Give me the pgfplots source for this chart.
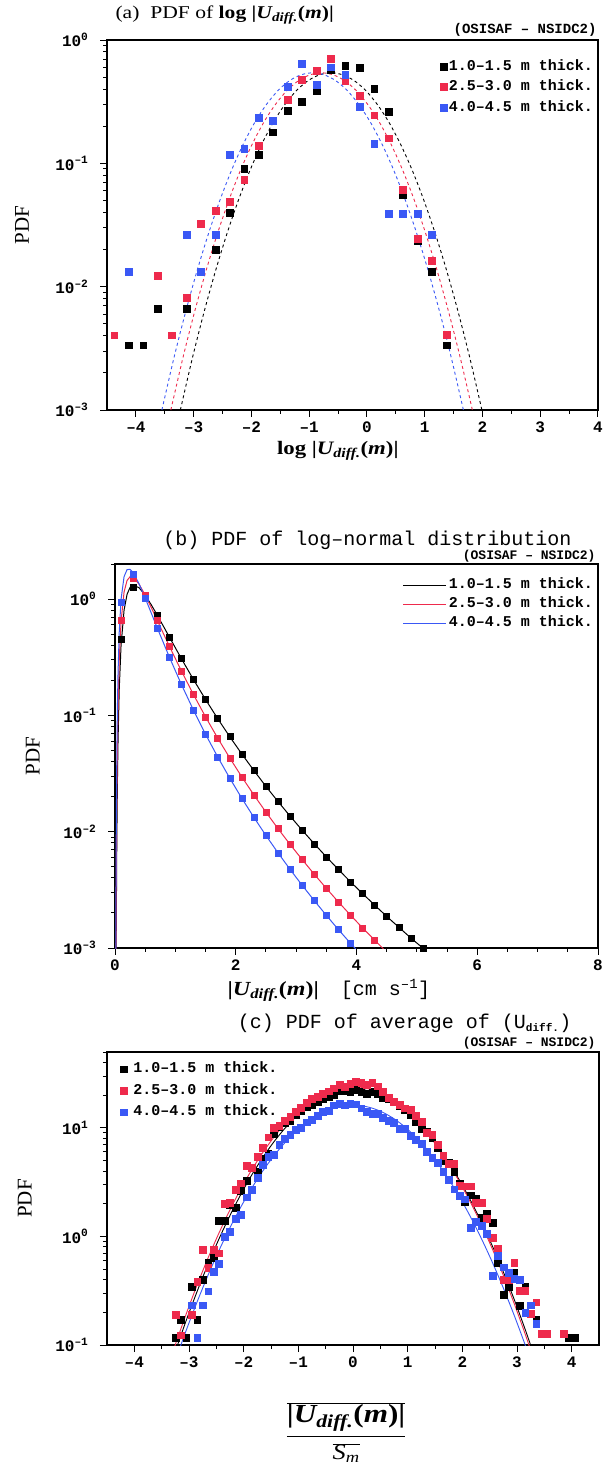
\documentclass[border=0pt]{standalone}
\usepackage{fontspec}
\setmainfont{Liberation Serif}
\setmonofont{Liberation Mono}
\newfontfamily\wserif[FakeStretch=1.2]{Liberation Serif}
\usepackage{pgfplots}
\pgfplotsset{compat=1.18}
\definecolor{cred}{RGB}{238,42,76}
\definecolor{cblue}{RGB}{58,88,245}
\newcommand{\fs}[1]{\fontsize{#1}{#1}\selectfont}
\pgfplotsset{
  base/.style={
    scale only axis, anchor=north west,
    axis line style={line width=1.1pt},
    tick align=outside, tick pos=left,
    major tick length=7pt, minor tick length=4pt,
    tick style={line width=1pt, black},
    tick label style={font=\fs{16}\ttfamily\bfseries},
    xticklabel style={yshift=-1pt},
    yticklabel style={xshift=-8pt},
    legend cell align=left,
  },
  sq/.style={only marks, mark=square*, mark size=3.4pt, mark options={draw=none, fill=#1}, color=#1},
  sqb/.style={only marks, mark=square*, mark size=3pt, mark options={draw=none, fill=#1}, color=#1},
}
\begin{document}
\begin{tikzpicture}
\useasboundingbox (0,0) rectangle (605pt,-1474pt);

% ---------------- panel (a)
\begin{axis}[ymode=log, base, at={(107pt,-40pt)}, width=491pt, height=370pt,
  xmin=-4.5, xmax=4, ymin=1e-3, ymax=1,
  xtick={-4,-3,-2,-1,0,1,2,3,4}, xticklabels={–4,–3,–2,–1,0,1,2,3,4},
  minor x tick num=1,
  ytick={1e-3,1e-2,1e-1,1},
  yticklabels={10\textsuperscript{–3},10\textsuperscript{–2},10\textsuperscript{–1},10\textsuperscript{0}},
  minor ytick={2e-3,3e-3,4e-3,5e-3,6e-3,7e-3,8e-3,9e-3,2e-2,3e-2,4e-2,5e-2,6e-2,7e-2,8e-2,9e-2,0.2,0.3,0.4,0.5,0.6,0.7,0.8,0.9},
  ylabel={PDF}, ylabel style={font=\fs{21}\rmfamily, at={(axis description cs:-0.173,0.5)}, anchor=center},
  xlabel={\wserif\bfseries log |\itshape U\textsubscript{diff.}\upshape(\itshape m\upshape)|},
  xlabel style={font=\fs{19}, at={(axis description cs:0.47,-0.11)}, anchor=center},
  legend style={draw=none, fill=none, at={(0.994,0.957)}, anchor=north east, inner sep=0pt,
    font=\fs{15}\ttfamily\bfseries, nodes={text height=11pt, text depth=3.5pt, inner ysep=3pt, inner xsep=2pt}},
  legend image code/.code={\draw[#1] plot coordinates {(0pt,0pt)};},
]
\addplot[sq=black] coordinates {(-4.125,0.00335) (-3.875,0.00335) (-3.625,0.00667) (-3.125,0.00667) (-2.625,0.02) (-2.375,0.0398) (-2.125,0.09) (-1.875,0.117) (-1.625,0.179) (-1.375,0.267) (-1.125,0.317) (-0.875,0.387) (-0.625,0.569) (-0.375,0.618) (-0.125,0.597) (0.125,0.404) (0.375,0.264) (0.625,0.056) (0.875,0.0234) (1.125,0.0133) (1.375,0.00335)};
\addlegendentry{1.0–1.5 m thick.}
\addplot[sq=cred] coordinates {(-4.375,0.00404) (-3.625,0.0123) (-3.375,0.00404) (-3.125,0.0081) (-2.875,0.0326) (-2.625,0.041) (-2.375,0.049) (-2.125,0.0734) (-1.875,0.139) (-1.375,0.328) (-1.125,0.48) (-0.875,0.561) (-0.625,0.709) (-0.375,0.47) (-0.125,0.352) (0.125,0.246) (0.375,0.16) (0.625,0.061) (0.875,0.0244) (1.125,0.0162) (1.375,0.00409)};
\addlegendentry{2.5–3.0 m thick.}
\addplot[sq=cblue] coordinates {(-4.125,0.0132) (-3.125,0.0262) (-2.875,0.0132) (-2.625,0.0262) (-2.375,0.117) (-2.125,0.1316) (-1.875,0.236) (-1.625,0.222) (-1.375,0.418) (-1.125,0.644) (-0.875,0.432) (-0.625,0.601) (-0.375,0.524) (-0.125,0.29) (0.125,0.144) (0.375,0.039) (0.625,0.039) (0.875,0.039) (1.125,0.0264)};
\addlegendentry{4.0–4.5 m thick.}
\addplot[black, dashed, line width=0.9pt, smooth, forget plot] coordinates {(-3.23,0.001) (-3.02,0.00266) (-2.82,0.00622) (-2.62,0.0135) (-2.42,0.0272) (-2.22,0.0510) (-2.02,0.0888) (-1.82,0.1435) (-1.62,0.2155) (-1.42,0.300) (-1.22,0.389) (-1.02,0.468) (-0.82,0.522) (-0.62,0.542) (-0.42,0.522) (-0.22,0.468) (-0.02,0.389) (0.18,0.300) (0.38,0.2155) (0.58,0.1435) (0.78,0.0888) (0.98,0.0510) (1.18,0.0272) (1.38,0.0135) (1.58,0.00622) (1.78,0.00266) (1.99,0.001)};
\addplot[cred, dashed, line width=0.9pt, smooth, forget plot] coordinates {(-3.395,0.001) (-3.185,0.00266) (-2.985,0.00622) (-2.785,0.0135) (-2.585,0.0272) (-2.385,0.0510) (-2.185,0.0888) (-1.985,0.1435) (-1.785,0.2155) (-1.585,0.300) (-1.385,0.389) (-1.185,0.468) (-0.985,0.522) (-0.785,0.542) (-0.585,0.522) (-0.385,0.468) (-0.185,0.389) (0.015,0.300) (0.215,0.2155) (0.415,0.1435) (0.615,0.0888) (0.815,0.0510) (1.015,0.0272) (1.215,0.0135) (1.415,0.00622) (1.615,0.00266) (1.825,0.001)};
\addplot[cblue, dashed, line width=0.9pt, smooth, forget plot] coordinates {(-3.55,0.001) (-3.34,0.00266) (-3.14,0.00622) (-2.94,0.0135) (-2.74,0.0272) (-2.54,0.0510) (-2.34,0.0888) (-2.14,0.1435) (-1.94,0.2155) (-1.74,0.300) (-1.54,0.389) (-1.34,0.468) (-1.14,0.522) (-0.94,0.542) (-0.74,0.522) (-0.54,0.468) (-0.34,0.389) (-0.14,0.300) (0.06,0.2155) (0.26,0.1435) (0.46,0.0888) (0.66,0.0510) (0.86,0.0272) (1.06,0.0135) (1.26,0.00622) (1.46,0.00266) (1.67,0.001)};
\end{axis}
\node[anchor=west, font=\fs{18}\wserif] at (112pt,-15pt) {(a)\ \ PDF of {\bfseries log |\itshape U\textsubscript{diff.}\upshape(\itshape m\upshape)|}};
\node[anchor=east, font=\fs{14}\ttfamily\bfseries] at (600pt,-30pt) {(OSISAF – NSIDC2)};

% ---------------- panel (b)
\begin{axis}[ymode=log, base, at={(115pt,-564pt)}, width=483pt, height=384pt,
  xmin=0, xmax=8, ymin=1e-3, ymax=2,
  xtick={0,2,4,6,8}, xticklabels={0,2,4,6,8}, minor x tick num=3,
  ytick={1e-3,1e-2,1e-1,1},
  yticklabels={10\textsuperscript{–3},10\textsuperscript{–2},10\textsuperscript{–1},10\textsuperscript{0}},
  minor ytick={2e-3,3e-3,4e-3,5e-3,6e-3,7e-3,8e-3,9e-3,2e-2,3e-2,4e-2,5e-2,6e-2,7e-2,8e-2,9e-2,0.2,0.3,0.4,0.5,0.6,0.7,0.8,0.9,2},
  ylabel={PDF}, ylabel style={font=\fs{21}\rmfamily, at={(axis description cs:-0.17,0.5)}, anchor=center},
  xlabel={{\wserif\bfseries |\itshape U\textsubscript{diff.}\upshape(\itshape m\upshape)|}\hspace{1.1em}{\ttfamily [cm s\textsuperscript{–1}]}},
  xlabel style={font=\fs{20}, at={(axis description cs:0.443,-0.11)}, anchor=center},
  legend style={draw=none, fill=none, at={(0.994,0.970)}, anchor=north east, inner sep=0pt,
    font=\fs{15}\ttfamily\bfseries, nodes={text height=10.5pt, text depth=3pt, inner ysep=2.75pt, inner xsep=2pt}},
  legend image code/.code={\draw[#1] (0pt,0pt) -- (43pt,0pt);},
]
\addplot[black, line width=1pt] coordinates {(0.018,0.0007) (0.02,0.00123) (0.03,0.00825) (0.04,0.02656) (0.05,0.0592) (0.07,0.1666) (0.1,0.397) (0.15,0.802) (0.2,1.098) (0.25,1.261) (0.3,1.319) (0.4,1.249) (0.5,1.079) (0.6,0.893) (0.7,0.727) (0.9,0.472) (1.1,0.307) (1.3,0.203) (1.5,0.1369) (1.7,0.0939) (1.9,0.0656) (2.1,0.0466) (2.3,0.0336) (2.5,0.0245) (2.7,0.01817) (2.9,0.01361) (3.1,0.0103) (3.3,0.00788) (3.5,0.00608) (3.7,0.00473) (3.9,0.00371) (4.1,0.00294) (4.3,0.00234) (4.5,0.00187) (4.7,0.00151) (4.9,0.00122) (5.1,0.000997)};
\addlegendentry{1.0–1.5 m thick.}
\addplot[cred, line width=1pt] coordinates {(0.015,0.0007) (0.02,0.00304) (0.03,0.0184) (0.04,0.0549) (0.05,0.1152) (0.07,0.2957) (0.1,0.638) (0.15,1.148) (0.2,1.446) (0.25,1.555) (0.3,1.541) (0.4,1.339) (0.5,1.080) (0.6,0.846) (0.7,0.655) (0.9,0.3935) (1.1,0.2405) (1.3,0.1509) (1.5,0.0970) (1.7,0.0639) (1.9,0.0431) (2.1,0.0296) (2.3,0.0207) (2.5,0.01473) (2.7,0.01062) (2.9,0.00777) (3.1,0.00576) (3.3,0.00431) (3.5,0.00326) (3.7,0.00249) (3.9,0.00192) (4.1,0.00149) (4.3,0.00117) (4.5,0.00092)};
\addlegendentry{2.5–3.0 m thick.}
\addplot[cblue, line width=1pt] coordinates {(0.012,0.0007) (0.015,0.0022) (0.02,0.00848) (0.03,0.0439) (0.04,0.1175) (0.05,0.2275) (0.07,0.518) (0.1,0.989) (0.15,1.557) (0.2,1.791) (0.25,1.798) (0.3,1.687) (0.4,1.347) (0.5,1.020) (0.6,0.759) (0.7,0.5646) (0.9,0.3172) (1.1,0.1842) (1.3,0.1108) (1.5,0.0688) (1.7,0.0440) (1.9,0.0289) (2.1,0.0194) (2.3,0.01329) (2.5,0.00928) (2.7,0.00658) (2.9,0.00474) (3.1,0.00346) (3.3,0.00256) (3.5,0.00191) (3.7,0.00144) (3.9,0.0011) (4.1,0.000846)};
\addlegendentry{4.0–4.5 m thick.}
\addplot[sqb=black, forget plot] coordinates {(0.1,0.45) (0.3,1.27) (0.5,1.079) (0.7,0.727) (0.9,0.472) (1.1,0.307) (1.3,0.203) (1.5,0.1369) (1.7,0.0939) (1.9,0.0656) (2.1,0.0466) (2.3,0.0336) (2.5,0.0245) (2.7,0.0182) (2.9,0.0136) (3.1,0.0103) (3.3,0.00788) (3.5,0.00608) (3.7,0.00473) (3.9,0.00371) (4.1,0.00294) (4.3,0.00234) (4.5,0.00187) (4.7,0.00151) (4.9,0.00122) (5.1,0.001)};
\addplot[sqb=cred, forget plot] coordinates {(0.1,0.656) (0.3,1.5) (0.5,1.08) (0.7,0.655) (0.9,0.3935) (1.1,0.2405) (1.3,0.1509) (1.5,0.097) (1.7,0.0639) (1.9,0.0431) (2.1,0.0296) (2.3,0.0207) (2.5,0.01473) (2.7,0.01062) (2.9,0.00777) (3.1,0.00576) (3.3,0.00431) (3.5,0.00326) (3.7,0.00249) (3.9,0.00192) (4.1,0.00149) (4.3,0.00117)};
\addplot[sqb=cblue, forget plot] coordinates {(0.1,0.93) (0.3,1.62) (0.5,1.02) (0.7,0.5646) (0.9,0.3172) (1.1,0.1842) (1.3,0.1108) (1.5,0.0688) (1.7,0.044) (1.9,0.0289) (2.1,0.0194) (2.3,0.01329) (2.5,0.00928) (2.7,0.00658) (2.9,0.00474) (3.1,0.00346) (3.3,0.00256) (3.5,0.00191) (3.7,0.00144) (3.9,0.0011)};
\end{axis}
\node[anchor=east, font=\fs{20}\ttfamily] at (575pt,-540pt) {(b) PDF of log–normal distribution};
\node[anchor=east, font=\fs{13}\ttfamily\bfseries] at (599pt,-556pt) {(OSISAF – NSIDC2)};

% ---------------- panel (c)
\begin{axis}[ymode=log, base, at={(107pt,-1052pt)}, width=492pt, height=293pt,
  xmin=-4.5, xmax=4.5, ymin=0.1, ymax=50,
  xtick={-4,-3,-2,-1,0,1,2,3,4}, xticklabels={–4,–3,–2,–1,0,1,2,3,4},
  minor x tick num=1,
  ytick={0.1,1,10},
  yticklabels={10\textsuperscript{–1},10\textsuperscript{0},10\textsuperscript{1}},
  minor ytick={0.2,0.3,0.4,0.5,0.6,0.7,0.8,0.9,2,3,4,5,6,7,8,9,20,30,40,50},
  ylabel={PDF}, ylabel style={font=\fs{21}\rmfamily, at={(axis description cs:-0.167,0.5)}, anchor=center},
  xlabel={$\displaystyle{\overline{\mbox{\fs{26}\wserif\bfseries |\itshape U\textsubscript{diff.}\upshape(\itshape m\upshape)|}}\above 1.6pt \overline{\mbox{\fs{22}\wserif\itshape S\textsubscript{m}}}}$},
  xlabel style={font=\fs{24}, at={(axis description cs:0.486,-0.30)}, anchor=center},
  legend style={draw=none, fill=none, at={(0.0274,0.979)}, anchor=north west, inner sep=0pt,
    font=\fs{15}\ttfamily\bfseries, nodes={text height=11pt, text depth=3.5pt, inner ysep=3.5pt, inner xsep=6pt}},
  legend image code/.code={\draw[#1] plot coordinates {(0pt,0pt)};},
]
\addplot[sq=black] coordinates {(-3.25,0.116) (-3.15,0.171) (-3.05,0.116) (-2.95,0.345) (-2.85,0.171) (-2.75,0.40) (-2.65,0.574) (-2.55,0.64) (-2.45,1.39) (-2.35,1.39) (-2.25,1.95) (-2.15,1.83) (-2.05,2.64) (-1.95,3.24) (-1.85,4.33) (-1.75,3.92) (-1.65,5.26) (-1.55,5.77) (-1.45,8.8) (-1.35,10.3) (-1.25,11.2) (-1.15,11.7) (-1.05,13.3) (-0.95,14.5) (-0.85,15.6) (-0.75,16.4) (-0.65,17.5) (-0.55,18.6) (-0.45,19.5) (-0.35,20.3) (-0.25,21.8) (-0.15,22.1) (-0.05,21.6) (0.05,22.3) (0.15,21.4) (0.25,20.7) (0.35,21.6) (0.45,20.6) (0.55,18.8) (0.65,18.6) (0.75,17.5) (0.85,16.0) (0.95,14.6) (1.05,13.2) (1.15,11.3) (1.25,9.9) (1.35,9.2) (1.45,8.1) (1.55,6.6) (1.65,4.94) (1.75,4.8) (1.85,3.95) (1.95,3.1) (2.05,2.1) (2.15,2.4) (2.25,2.24) (2.35,1.5) (2.45,1.62) (2.55,1.33) (2.65,0.573) (2.75,0.29) (2.85,0.345) (2.95,0.46) (3.05,0.229) (3.15,0.345) (3.35,0.171) (3.95,0.116) (4.05,0.116)};
\addlegendentry{1.0–1.5 m thick.}
\addplot[sq=cred] coordinates {(-3.25,0.19) (-3.15,0.123) (-2.95,0.19) (-2.85,0.383) (-2.75,0.757) (-2.65,0.513) (-2.55,0.757) (-2.45,0.70) (-2.35,2.0) (-2.25,2.04) (-2.15,2.7) (-2.05,3.1) (-1.95,4.48) (-1.85,4.3) (-1.75,5.4) (-1.65,6.6) (-1.55,8.2) (-1.45,10.0) (-1.35,10.5) (-1.25,11.6) (-1.15,12.6) (-1.05,14.2) (-0.95,15.4) (-0.85,17.0) (-0.75,18.6) (-0.65,19.4) (-0.55,20.6) (-0.45,21.8) (-0.35,23.2) (-0.25,24.8) (-0.15,24.0) (-0.05,25.6) (0.05,26.6) (0.15,26.0) (0.25,25.0) (0.35,26.2) (0.45,24.2) (0.55,21.5) (0.65,19.0) (0.75,17.3) (0.85,16.3) (0.95,15.2) (1.05,14.8) (1.15,13.0) (1.25,11.5) (1.35,9.0) (1.45,8.7) (1.55,7.0) (1.65,5.5) (1.75,4.7) (1.85,4.7) (1.95,2.95) (2.05,2.9) (2.15,2.9) (2.25,2.05) (2.35,2.05) (2.45,1.45) (2.55,0.97) (2.65,0.78) (2.75,0.4) (2.85,0.4) (2.95,0.573) (3.05,0.318) (3.15,0.318) (3.25,0.194) (3.35,0.248) (3.45,0.127) (3.55,0.127) (3.85,0.127)};
\addlegendentry{2.5–3.0 m thick.}
\addplot[sq=cblue] coordinates {(-2.95,0.233) (-2.85,0.116) (-2.75,0.233) (-2.65,0.313) (-2.55,0.475) (-2.45,0.56) (-2.35,0.99) (-2.25,1.11) (-2.15,1.45) (-2.05,1.6) (-1.95,2.3) (-1.85,2.7) (-1.75,3.5) (-1.65,4.6) (-1.55,5.4) (-1.45,5.7) (-1.35,7.0) (-1.25,7.9) (-1.15,8.6) (-1.05,9.6) (-0.95,10.0) (-0.85,11.3) (-0.75,12.0) (-0.65,13.0) (-0.55,14.0) (-0.45,14.4) (-0.35,16.2) (-0.25,16.7) (-0.15,16.2) (-0.05,16.7) (0.05,16.5) (0.15,15.2) (0.25,14.1) (0.35,13.5) (0.45,13.5) (0.55,12.5) (0.65,11.6) (0.75,11.2) (0.85,9.9) (0.95,9.9) (1.05,8.5) (1.15,7.8) (1.25,7.2) (1.35,6.0) (1.45,5.3) (1.55,4.8) (1.65,3.95) (1.75,3.34) (1.85,2.72) (1.95,2.38) (2.05,2.2) (2.15,1.2) (2.25,1.36) (2.35,1.25) (2.45,1.06) (2.55,0.433) (2.65,0.67) (2.75,0.52) (2.85,0.46) (2.95,0.41) (3.05,0.40) (3.15,0.2) (3.25,0.233) (3.35,0.156)};
\addlegendentry{4.0–4.5 m thick.}
\addplot[black, line width=0.9pt, smooth, forget plot] coordinates {(-3.25,0.0873) (-3.05,0.169) (-2.85,0.313) (-2.65,0.558) (-2.45,0.953) (-2.25,1.56) (-2.05,2.45) (-1.85,3.70) (-1.65,5.34) (-1.45,7.41) (-1.25,9.85) (-1.05,12.56) (-0.85,15.38) (-0.65,18.05) (-0.45,20.33) (-0.25,21.95) (-0.05,22.74) (0.15,22.60) (0.35,21.55) (0.55,19.71) (0.75,17.28) (0.95,14.54) (1.15,11.73) (1.35,9.08) (1.55,6.74) (1.75,4.80) (1.95,3.28) (2.15,2.15) (2.35,1.35) (2.55,0.815) (2.75,0.471) (2.95,0.262) (3.15,0.139) (3.35,0.071)};
\addplot[cred, line width=0.9pt, smooth, forget plot] coordinates {(-3.35,0.0714) (-3.25,0.1007) (-3.05,0.194) (-2.85,0.359) (-2.65,0.636) (-2.45,1.08) (-2.25,1.76) (-2.05,2.75) (-1.85,4.13) (-1.65,5.93) (-1.45,8.18) (-1.25,10.81) (-1.05,13.71) (-0.85,16.67) (-0.65,19.44) (-0.45,21.74) (-0.25,23.31) (-0.05,23.98) (0.15,23.64) (0.35,22.36) (0.55,20.29) (0.75,17.64) (0.95,14.72) (1.15,11.78) (1.35,9.03) (1.55,6.65) (1.75,4.69) (1.95,3.17) (2.15,2.06) (2.35,1.28) (2.55,0.765) (2.75,0.438) (2.95,0.240) (3.15,0.126) (3.35,0.064)};
\addplot[cblue, line width=0.9pt, smooth, forget plot] coordinates {(-3.25,0.072) (-3.05,0.137) (-2.85,0.251) (-2.65,0.442) (-2.45,0.746) (-2.25,1.208) (-2.05,1.877) (-1.85,2.80) (-1.65,4.01) (-1.45,5.51) (-1.25,7.27) (-1.05,9.20) (-0.85,11.18) (-0.65,13.05) (-0.45,14.6) (-0.25,15.69) (-0.05,16.18) (0.15,16.01) (0.35,15.21) (0.55,13.87) (0.75,12.14) (0.95,10.2) (1.15,8.22) (1.35,6.36) (1.55,4.73) (1.75,3.37) (1.95,2.305) (2.15,1.514) (2.35,0.953) (2.55,0.577) (2.75,0.335) (2.95,0.187) (3.15,0.0999) (3.35,0.051)};
\end{axis}
\node[anchor=east, font=\fs{20}\ttfamily] at (575pt,-1023pt) {(c) PDF of average of (U\textsubscript{\fs{11}\bfseries diff.})};
\node[anchor=east, font=\fs{13}\ttfamily\bfseries] at (599pt,-1043pt) {(OSISAF – NSIDC2)};
\end{tikzpicture}
\end{document}
